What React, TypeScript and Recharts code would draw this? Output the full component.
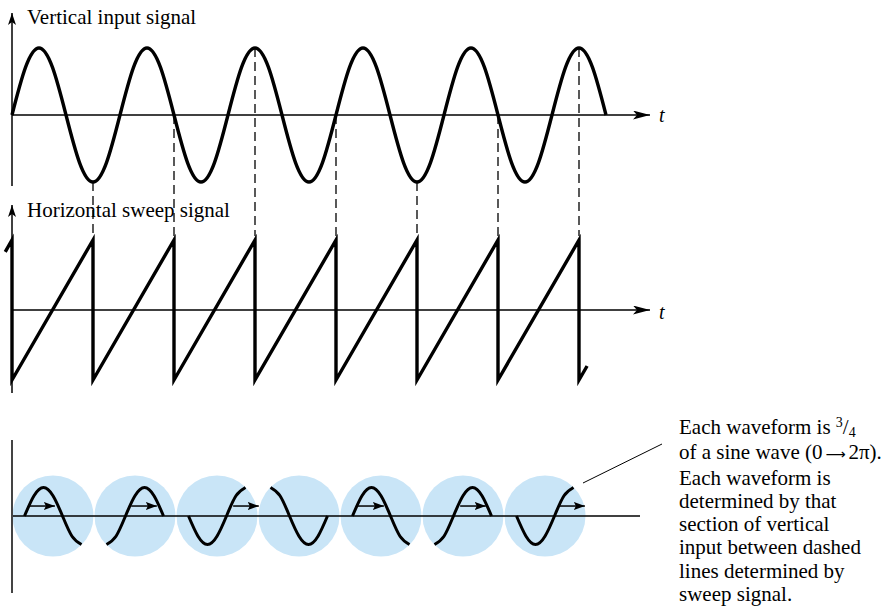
import React from 'react'
import { ComposedChart, Line, Scatter, XAxis, YAxis, ReferenceLine } from 'recharts'

const W = 882
const H = 606

// vertical input, sampled every 1/8 period (one period = 4 units of t)
const sineValues = [
  0, 0.71, 1, 0.71, 0, -0.71, -1, -0.71,
  0, 0.71, 1, 0.71, 0, -0.71, -1, -0.71,
  0, 0.71, 1, 0.71, 0, -0.71, -1, -0.71,
  0, 0.71, 1, 0.71, 0, -0.71, -1, -0.71,
  0, 0.71, 1, 0.71, 0, -0.71, -1, -0.71,
  0, 0.71, 1, 0.71, 0,
]
const SINE_STEP = 0.5

// horizontal sweep corners (sweep period = 3 units of t)
const sawT = [-0.25, 0, 0, 3, 3, 6, 6, 9, 9, 12, 12, 15, 15, 18, 18, 21, 21, 21.3]
const sawV = [0.83, 1, -1, 1, -1, 1, -1, 1, -1, 1, -1, 1, -1, 1, -1, 1, -1, -0.8]

// retrace instants -> dashed lines
const retraceT = [3, 6, 9, 12, 15, 18, 21]

// screen traces, one per sweep, arrow start/end in local units (null = no arrow)
const traces = [0, 1, 2, 3, 4, 5, 6]
const arrowFrom = [0.25, 1.3, 2.35, null, 0.25, 1.35, 2.2]
const arrowTo = [1.6, 2.65, 3.7, null, 1.65, 2.7, 3.6]
const ARROW_LEVEL = 0.35

// layout (pixels)
const X0 = 12
const PX_T = 27
const PX_S = 19
const CIRCLE0 = 53
const CIRCLE_GAP = 82
const CIRCLE_R = 40.5
const TOP_ZERO = 115, TOP_UNIT = 67
const MID_ZERO = 310, MID_UNIT = 70
const BOT_ZERO = 516, BOT_UNIT = 28.5

const yDom = (zero: number, unit: number) => [-(H - zero) / unit, zero / unit]
const tOf = (px: number) => (px - X0) / PX_T
const topV = (px: number) => (TOP_ZERO - px) / TOP_UNIT
const midV = (px: number) => (MID_ZERO - px) / MID_UNIT
const botV = (px: number) => (BOT_ZERO - px) / BOT_UNIT
const sCenter = (k: number) => (k * CIRCLE_GAP) / PX_S

const sineData = sineValues.map((v, i) => ({ x: i * SINE_STEP, v }))
const sawData = sawT.map((t, i) => ({ x: t, v: sawV[i] }))
const circleData = traces.map((k) => ({ x: sCenter(k), v: 0 }))
const traceData = traces.map((k) =>
  sineValues.slice(6 * k, 6 * k + 7).map((v, j) => ({ x: sCenter(k) - 1.5 + j * SINE_STEP, v }))
)

const serif = '"Liberation Serif", "Times New Roman", serif'
const txt = { position: 'absolute' as const, fontSize: 21, lineHeight: '23.3px', whiteSpace: 'nowrap' as const }

export default function App() {
  return (
    <div style={{ position: 'absolute', left: 0, top: 0, width: W, height: H, background: '#fff', fontFamily: serif }}>
      <ComposedChart width={W} height={H} margin={{ top: 0, right: 0, bottom: 0, left: 0 }}>
        <defs>
          <marker id="arrowH" markerUnits="userSpaceOnUse" markerWidth={17} markerHeight={9} refX={17} refY={4.5} orient="auto">
            <path d="M0,0 L17,4.5 L0,9 L4,4.5 Z" fill="#000" />
          </marker>
          <marker id="arrowV" markerUnits="userSpaceOnUse" markerWidth={12} markerHeight={8} refX={12} refY={4} orient="auto">
            <path d="M0,0 L12,4 L0,8 L3,4 Z" fill="#000" />
          </marker>
          <marker id="arrowS" markerUnits="userSpaceOnUse" markerWidth={11} markerHeight={8} refX={11} refY={4} orient="auto">
            <path d="M0,0 L11,4 L0,8 L2,4 Z" fill="#000" />
          </marker>
        </defs>
        <XAxis xAxisId="m" type="number" dataKey="x" domain={[-X0 / PX_T, (W - X0) / PX_T]} hide allowDataOverflow />
        <XAxis xAxisId="b" type="number" dataKey="x" domain={[-CIRCLE0 / PX_S, (W - CIRCLE0) / PX_S]} hide allowDataOverflow />
        <YAxis yAxisId="top" type="number" domain={yDom(TOP_ZERO, TOP_UNIT)} hide allowDataOverflow />
        <YAxis yAxisId="mid" type="number" domain={yDom(MID_ZERO, MID_UNIT)} hide allowDataOverflow />
        <YAxis yAxisId="bot" type="number" dataKey="v" domain={yDom(BOT_ZERO, BOT_UNIT)} hide allowDataOverflow />

        {/* CRT spots */}
        <Scatter
          xAxisId="b" yAxisId="bot" data={circleData} dataKey="v" zIndex={-50} isAnimationActive={false}
          shape={(p: any) => <circle cx={p.cx} cy={p.cy} r={CIRCLE_R} fill="#c9e5f7" />}
        />

        {/* axes */}
        <ReferenceLine xAxisId="m" yAxisId="top" segment={[{ x: 0, y: 0 }, { x: tOf(650), y: 0 }]} stroke="#000" strokeWidth={1.5} markerEnd="url(#arrowH)" />
        <ReferenceLine xAxisId="m" yAxisId="top" segment={[{ x: 0, y: topV(186) }, { x: 0, y: topV(13) }]} stroke="#000" strokeWidth={1.5} markerEnd="url(#arrowV)" />
        <ReferenceLine xAxisId="m" yAxisId="mid" segment={[{ x: 0, y: 0 }, { x: tOf(650), y: 0 }]} stroke="#000" strokeWidth={1.5} markerEnd="url(#arrowH)" />
        <ReferenceLine xAxisId="m" yAxisId="mid" segment={[{ x: 0, y: midV(393) }, { x: 0, y: midV(205) }]} stroke="#000" strokeWidth={1.5} markerEnd="url(#arrowV)" />
        <ReferenceLine xAxisId="m" yAxisId="bot" segment={[{ x: 0, y: 0 }, { x: tOf(640), y: 0 }]} stroke="#000" strokeWidth={1.5} />
        <ReferenceLine xAxisId="m" yAxisId="bot" segment={[{ x: 0, y: botV(593) }, { x: 0, y: botV(440) }]} stroke="#444" strokeWidth={2} />

        {/* dashed links from sine to sweep retrace */}
        {retraceT.map((t) => (
          <ReferenceLine key={'d' + t} xAxisId="m" yAxisId="top"
            segment={[{ x: t, y: sineValues[t / SINE_STEP] }, { x: t, y: topV(236) }]}
            stroke="#000" strokeWidth={1.3} strokeDasharray="9 5" />
        ))}

        {/* annotation pointer */}
        <ReferenceLine xAxisId="m" yAxisId="bot" segment={[{ x: tOf(583), y: botV(483) }, { x: tOf(662), y: botV(444) }]} stroke="#000" strokeWidth={1} />

        <Line xAxisId="m" yAxisId="top" data={sineData} dataKey="v" type="natural" stroke="#000" strokeWidth={3.4} dot={false} activeDot={false} isAnimationActive={false} />
        <Line xAxisId="m" yAxisId="mid" data={sawData} dataKey="v" type="linear" stroke="#000" strokeWidth={3.4} dot={false} activeDot={false} isAnimationActive={false} />

        {traces.map((k) => (
          <Line key={'w' + k} xAxisId="b" yAxisId="bot" data={traceData[k]} dataKey="v" type="natural" stroke="#000" strokeWidth={3} dot={false} activeDot={false} isAnimationActive={false} />
        ))}
        {traces.map((k) =>
          arrowFrom[k] === null ? null : (
            <ReferenceLine key={'a' + k} xAxisId="b" yAxisId="bot"
              segment={[{ x: sCenter(k) - 1.5 + (arrowFrom[k] as number), y: ARROW_LEVEL }, { x: sCenter(k) - 1.5 + (arrowTo[k] as number), y: ARROW_LEVEL }]}
              stroke="#000" strokeWidth={1.5} markerEnd="url(#arrowS)" />
          )
        )}
      </ComposedChart>

      <div style={{ ...txt, left: 27, top: 6 }}>Vertical input signal</div>
      <div style={{ ...txt, left: 27, top: 199 }}>Horizontal sweep signal</div>
      <div style={{ ...txt, left: 659, top: 104, fontSize: 20, fontStyle: 'italic' }}>t</div>
      <div style={{ ...txt, left: 659, top: 301, fontSize: 20, fontStyle: 'italic' }}>t</div>
      <div style={{ ...txt, left: 679, top: 416 }}>
        <div>
          Each waveform is <span style={{ position: 'relative', top: -7, fontSize: 14 }}>3</span>/<span style={{ position: 'relative', top: 3, fontSize: 14 }}>4</span>
        </div>
        <div>
          of a sine wave (0<span style={{ display: 'inline-block', width: 26, textAlign: 'center', fontFamily: '"DejaVu Sans", sans-serif', fontSize: 14 }}>⟶</span>2π).
        </div>
        <div>Each waveform is</div>
        <div>determined by that</div>
        <div>section of vertical</div>
        <div>input between dashed</div>
        <div>lines determined by</div>
        <div>sweep signal.</div>
      </div>
    </div>
  )
}
